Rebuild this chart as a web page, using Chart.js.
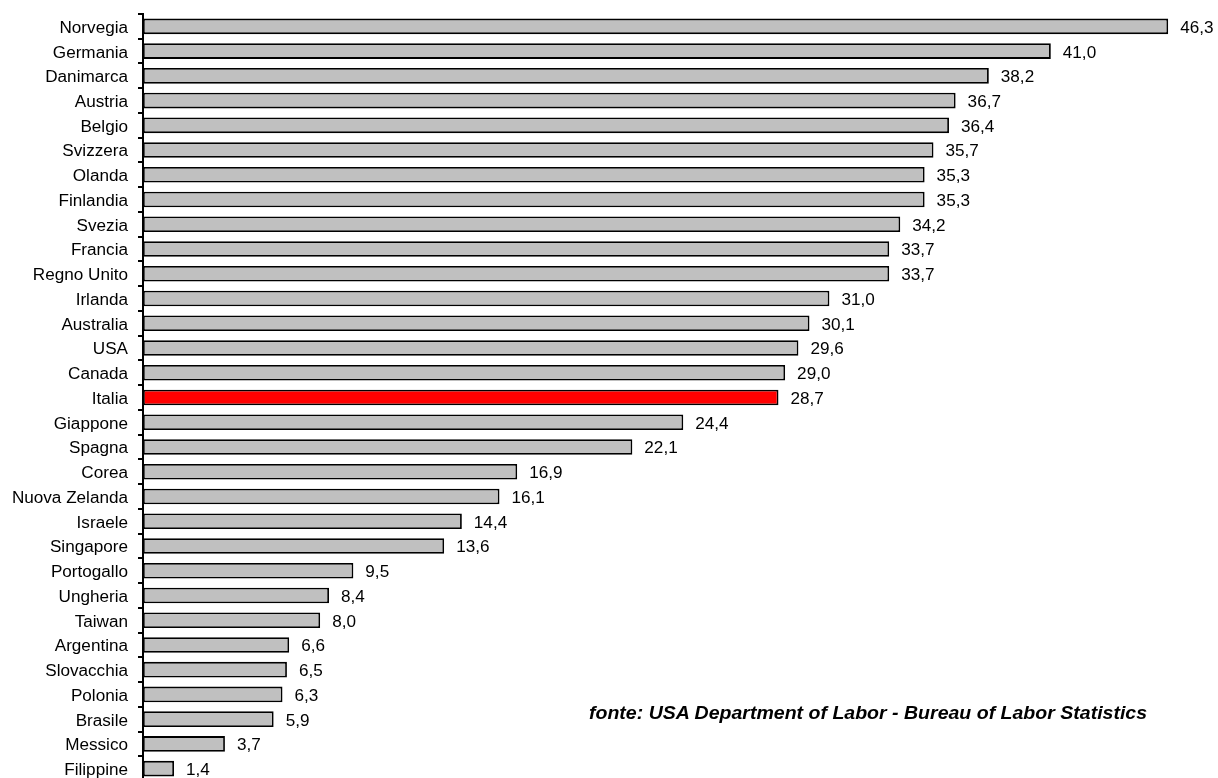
<!DOCTYPE html>
<html>
<head>
<meta charset="utf-8">
<script src="https://cdn.jsdelivr.net/npm/chart.js"></script>
<style>
  html, body { margin: 0; padding: 0; background: #fff; overflow: hidden; }
  #wrap { position: relative; width: 1218px; height: 781px; }
  #fonte {
    position: absolute; left: 589px; top: 703px;
    font: italic bold 18px "Liberation Sans", Arial, sans-serif; color: #000;
    white-space: nowrap;
    transform: scaleX(1.085); transform-origin: left top;
  }
</style>
</head>
<body>
<div id="wrap">
  <canvas id="chart" width="1218" height="781"></canvas>
  <div id="fonte">fonte: USA Department of Labor - Bureau of Labor Statistics</div>
</div>
<script>
// dati
const paesi = ["Norvegia", "Germania", "Danimarca", "Austria", "Belgio", "Svizzera", "Olanda",
    "Finlandia", "Svezia", "Francia", "Regno Unito", "Irlanda", "Australia", "USA", "Canada",
    "Italia", "Giappone", "Spagna", "Corea", "Nuova Zelanda", "Israele", "Singapore",
    "Portogallo", "Ungheria", "Taiwan", "Argentina", "Slovacchia", "Polonia", "Brasile",
    "Messico", "Filippine"];
const valori = [46.3, 41.0, 38.2, 36.7, 36.4, 35.7, 35.3, 35.3, 34.2, 33.7, 33.7, 31.0, 30.1,
    29.6, 29.0, 28.7, 24.4, 22.1, 16.9, 16.1, 14.4, 13.6, 9.5, 8.4, 8.0, 6.6, 6.5, 6.3, 5.9,
    3.7, 1.4];
const evidenziato = "Italia";

const FONT = "'Liberation Sans', Arial, sans-serif";
const STRETCH = 1.07; // il grafico originale è leggermente allargato in orizzontale

// etichette: nomi dei paesi a sinistra e valori a destra delle barre
const etichette = {
    id: "etichette",
    afterDatasetsDraw(chart) {
        const ctx = chart.ctx;
        const meta = chart.getDatasetMeta(0);
        const yScale = chart.scales.y;
        ctx.save();
        ctx.font = "16px " + FONT;
        ctx.fillStyle = "#000";
        ctx.textBaseline = "middle";
        meta.data.forEach((bar, i) => {
            // valore
            const txt = valori[i].toFixed(1).replace(".", ",");
            ctx.save();
            ctx.translate(bar.x + 12, bar.y + 2);
            ctx.scale(STRETCH, 1);
            ctx.textAlign = "left";
            ctx.fillText(txt, 0, 0);
            ctx.restore();
            // paese
            ctx.save();
            ctx.translate(yScale.right - 15, bar.y + 2);
            ctx.scale(STRETCH, 1);
            ctx.textAlign = "right";
            ctx.fillText(paesi[i], 0, 0);
            ctx.restore();
        });
        ctx.restore();
    }
};

new Chart(document.getElementById("chart"), {
    type: "bar",
    data: {
        labels: paesi,
        datasets: [{
            data: valori,
            backgroundColor: paesi.map(p => p === evidenziato ? "#ff0000" : "#c0c0c0"),
            borderColor: "#000",
            borderWidth: 1.8,
            borderSkipped: false,
            categoryPercentage: 1,
            barPercentage: 0.63,
        }]
    },
    options: {
        indexAxis: "y",
        responsive: false,
        animation: false,
        layout: { padding: { top: 14, right: 0, bottom: 0, left: 0 } },
        plugins: {
            legend: { display: false },
            tooltip: { enabled: false }
        },
        scales: {
            x: {
                display: false,
                min: 0,
                max: 48.55
            },
            y: {
                afterFit(scale) { scale.width = 143; },
                border: { display: true, color: "#000", width: 2 },
                grid: {
                    offset: true,
                    drawOnChartArea: false,
                    drawTicks: true,
                    tickLength: 5,
                    color: "#000",
                    lineWidth: 2
                },
                ticks: { display: false, autoSkip: false }
            }
        }
    },
    plugins: [etichette]
});
</script>
</body>
</html>
